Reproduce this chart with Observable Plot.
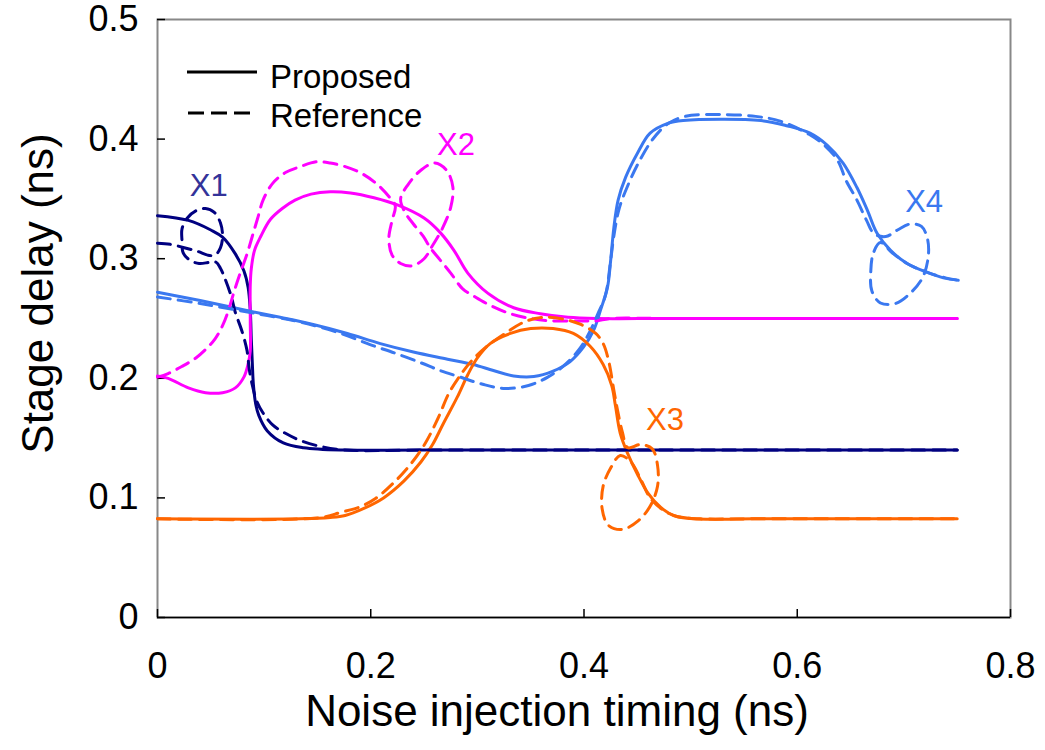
<!DOCTYPE html>
<html>
<head>
<meta charset="utf-8">
<script src="https://cdn.jsdelivr.net/npm/d3@7"></script>
<script src="https://cdn.jsdelivr.net/npm/@observablehq/plot@0.6"></script>
<style>
  body { margin: 0; background: #fff; }
  #wrap { position: relative; width: 1045px; height: 750px; font-family: "Liberation Sans", Arial, sans-serif; }
  #legend { position: absolute; left: 0; top: 0; width: 1045px; height: 0; }
  #legend svg { position: absolute; overflow: visible; }
  #legend .lbl { position: absolute; font-size: 33px; line-height: 33px; color: #000; white-space: nowrap; }
</style>
</head>
<body>
<div id="wrap">
  <div id="chart"></div>
  <div id="legend">
    <svg style="left:187px;top:62px" width="72" height="20"><line x1="0" y1="10" x2="70" y2="10" stroke="#000" stroke-width="3"/></svg>
    <div class="lbl" style="left:270px;top:60px">Proposed</div>
    <svg style="left:188px;top:103px" width="66" height="20"><line x1="0" y1="10" x2="62" y2="10" stroke="#000" stroke-width="3" stroke-dasharray="16,7"/></svg>
    <div class="lbl" style="left:270px;top:99px">Reference</div>
  </div>
</div>
<script>
// ---------- data (x: noise injection timing in ns, y: stage delay in ns) ----------
const xTicks = [0, 0.2, 0.4, 0.6, 0.8];
const xTickLabels = ["0", "0.2", "0.4", "0.6", "0.8"];
const yTicks = [0, 0.1, 0.2, 0.3, 0.4, 0.5];
const yTickLabels = ["0", "0.1", "0.2", "0.3", "0.4", "0.5"];
const xTitle = "Noise injection timing (ns)";
const yTitle = "Stage delay (ns)";

const navyProposed = [[0,0.336],[0.029,0.332],[0.050,0.324],[0.061,0.318],[0.073,0.304],[0.081,0.290],[0.085,0.276],[0.087,0.257],[0.088,0.232],[0.089,0.211],[0.090,0.194],[0.092,0.179],[0.095,0.169],[0.103,0.156],[0.118,0.146],[0.137,0.142],[0.174,0.140],[0.250,0.140],[0.750,0.140]];
const navyReference = [[0,0.313],[0.012,0.312],[0.026,0.309],[0.038,0.306],[0.047,0.303],[0.054,0.303],[0.059,0.309],[0.061,0.319],[0.059,0.330],[0.053,0.339],[0.045,0.342],[0.036,0.340],[0.028,0.334],[0.023,0.325],[0.023,0.315],[0.024,0.305],[0.030,0.299],[0.039,0.296],[0.049,0.297],[0.055,0.297],[0.059,0.292],[0.063,0.284],[0.069,0.269],[0.073,0.255],[0.079,0.240],[0.084,0.223],[0.086,0.208],[0.089,0.194],[0.093,0.181],[0.099,0.171],[0.108,0.161],[0.120,0.154],[0.134,0.148],[0.153,0.143],[0.176,0.140],[0.250,0.140],[0.750,0.140]];

const magentaProposed = [[0,0.202],[0.010,0.200],[0.029,0.192],[0.045,0.188],[0.061,0.188],[0.073,0.192],[0.081,0.201],[0.085,0.212],[0.087,0.223],[0.087,0.248],[0.087,0.278],[0.088,0.292],[0.091,0.307],[0.097,0.319],[0.106,0.333],[0.117,0.342],[0.129,0.349],[0.144,0.354],[0.162,0.356],[0.181,0.355],[0.203,0.351],[0.225,0.345],[0.250,0.334],[0.265,0.322],[0.278,0.307],[0.291,0.288],[0.310,0.271],[0.334,0.259],[0.359,0.254],[0.385,0.251],[0.413,0.250],[0.480,0.250],[0.750,0.250]];
const magentaReference = [[0,0.201],[0.010,0.204],[0.023,0.210],[0.036,0.217],[0.045,0.224],[0.054,0.233],[0.061,0.244],[0.067,0.258],[0.072,0.273],[0.078,0.289],[0.084,0.304],[0.089,0.319],[0.094,0.334],[0.099,0.349],[0.108,0.363],[0.120,0.372],[0.134,0.377],[0.149,0.381],[0.162,0.380],[0.176,0.377],[0.190,0.372],[0.205,0.363],[0.217,0.352],[0.223,0.344],[0.220,0.332],[0.217,0.317],[0.220,0.303],[0.228,0.296],[0.239,0.294],[0.250,0.300],[0.258,0.311],[0.267,0.325],[0.275,0.343],[0.277,0.360],[0.271,0.374],[0.260,0.380],[0.247,0.374],[0.235,0.362],[0.228,0.350],[0.232,0.339],[0.240,0.329],[0.249,0.319],[0.256,0.309],[0.265,0.299],[0.275,0.288],[0.286,0.275],[0.298,0.268],[0.312,0.261],[0.331,0.254],[0.350,0.250],[0.369,0.248],[0.392,0.248],[0.411,0.248],[0.425,0.250],[0.480,0.250],[0.750,0.250]];

const blueProposed = [[0,0.272],[0.040,0.265],[0.087,0.256],[0.115,0.251],[0.146,0.245],[0.178,0.2375],[0.209,0.229],[0.240,0.222],[0.272,0.216],[0.296,0.2115],[0.315,0.2065],[0.334,0.202],[0.353,0.2015],[0.371,0.206],[0.387,0.214],[0.3995,0.226],[0.409,0.240],[0.4155,0.257],[0.422,0.276],[0.425,0.2985],[0.428,0.326],[0.432,0.349],[0.439,0.368],[0.450,0.388],[0.462,0.405],[0.478,0.413],[0.493,0.4155],[0.566,0.4155],[0.591,0.411],[0.612,0.405],[0.628,0.395],[0.643,0.380],[0.656,0.3595],[0.666,0.340],[0.675,0.321],[0.6875,0.307],[0.703,0.296],[0.722,0.2885],[0.737,0.284],[0.751,0.282]];
const blueReference = [[0,0.268],[0.040,0.2625],[0.087,0.255],[0.134,0.247],[0.172,0.2375],[0.200,0.228],[0.223,0.221],[0.247,0.213],[0.265,0.2065],[0.284,0.201],[0.305,0.195],[0.326,0.1915],[0.348,0.194],[0.366,0.201],[0.383,0.212],[0.397,0.226],[0.406,0.240],[0.413,0.254],[0.420,0.269],[0.425,0.2985],[0.428,0.319],[0.433,0.342],[0.441,0.361],[0.451,0.380],[0.465,0.4005],[0.479,0.413],[0.495,0.419],[0.528,0.4205],[0.561,0.419],[0.584,0.415],[0.611,0.404],[0.6265,0.394],[0.638,0.382],[0.646,0.365],[0.656,0.349],[0.665,0.332],[0.672,0.321],[0.683,0.3185],[0.694,0.324],[0.706,0.329],[0.7165,0.327],[0.722,0.317],[0.723,0.303],[0.718,0.285],[0.707,0.272],[0.692,0.2625],[0.678,0.263],[0.670,0.273],[0.669,0.290],[0.6715,0.305],[0.678,0.3135],[0.689,0.305],[0.703,0.296],[0.722,0.2885],[0.739,0.284],[0.751,0.282]];

const orangeProposed = [[0,0.0825],[0.134,0.0825],[0.162,0.0836],[0.176,0.0853],[0.193,0.091],[0.212,0.100],[0.231,0.114],[0.247,0.130],[0.258,0.1446],[0.268,0.162],[0.281,0.184],[0.291,0.203],[0.300,0.217],[0.312,0.229],[0.331,0.2375],[0.350,0.2416],[0.371,0.2416],[0.390,0.2375],[0.406,0.2266],[0.418,0.2115],[0.426,0.194],[0.4295,0.177],[0.434,0.154],[0.441,0.137],[0.450,0.120],[0.460,0.104],[0.472,0.092],[0.484,0.0853],[0.503,0.0825],[0.560,0.0825],[0.750,0.0825]];
const orangeReference = [[0,0.0825],[0.153,0.0835],[0.172,0.088],[0.1885,0.092],[0.2045,0.0995],[0.223,0.114],[0.239,0.130],[0.251,0.1455],[0.263,0.1664],[0.273,0.187],[0.282,0.200],[0.294,0.214],[0.308,0.226],[0.3245,0.2366],[0.345,0.2475],[0.364,0.251],[0.383,0.249],[0.397,0.245],[0.411,0.2375],[0.418,0.229],[0.423,0.215],[0.428,0.190],[0.4315,0.173],[0.436,0.155],[0.441,0.142],[0.453,0.1446],[0.464,0.141],[0.469,0.127],[0.469,0.110],[0.4624,0.0936],[0.451,0.081],[0.436,0.0736],[0.423,0.077],[0.417,0.091],[0.418,0.110],[0.425,0.125],[0.434,0.1355],[0.444,0.130],[0.453,0.116],[0.462,0.100],[0.474,0.090],[0.487,0.0845],[0.509,0.0825],[0.560,0.0825],[0.750,0.0825]];

const annotLabels = ["X1", "X2", "X3", "X4"];
const annotX = [0.048, 0.280, 0.476, 0.719];
const annotY = [0.361, 0.395, 0.165, 0.347];

// ---------- styles ----------
const colors = { navy: "#000080", magenta: "#ff00ff", blue: "#3a78f0", orange: "#ff6600" };
const annotColors = { X1: "#333399", X2: "#ff00ff", X3: "#ff6600", X4: "#3a78f0" };
const series = [
  { data: navyProposed, color: colors.navy, dashed: false },
  { data: magentaProposed, color: colors.magenta, dashed: false },
  { data: blueProposed, color: colors.blue, dashed: false },
  { data: orangeProposed, color: colors.orange, dashed: false },
  { data: navyReference, color: colors.navy, dashed: true },
  { data: magentaReference, color: colors.magenta, dashed: true },
  { data: blueReference, color: colors.blue, dashed: true },
  { data: orangeReference, color: colors.orange, dashed: true }
];

const W = 1045, H = 750, mL = 157, mR = 35, mT = 19, mB = 133;
const plotW = W - mL - mR, plotH = H - mT - mB;
const font = "'Liberation Sans', Arial, sans-serif";

const chart = Plot.plot({
  width: W, height: H,
  marginLeft: mL, marginRight: mR, marginTop: mT, marginBottom: mB,
  x: { domain: [0, 0.8] },
  y: { domain: [0, 0.5] },
  style: { fontFamily: font, color: "#000", background: "#fff", overflow: "visible" },
  marks: [
    Plot.frame({ stroke: "#888", strokeWidth: 2 }),
    Plot.ruleY([0], { stroke: "#000", strokeWidth: 1.5 }),
    Plot.tickX(xTicks, { x: d => d, insetTop: plotH - 8, stroke: "#000", strokeWidth: 1.5 }),
    Plot.tickY(yTicks, { y: d => d, insetRight: plotW - 8, stroke: "#000", strokeWidth: 1.5 }),
    Plot.axisX({ ticks: xTicks, tickSize: 0, tickPadding: 35, fontSize: 36, label: null,
      tickFormat: d => xTickLabels[xTicks.indexOf(d)] }),
    Plot.axisY({ ticks: yTicks, tickSize: 0, tickPadding: 19, fontSize: 36, label: null,
      tickFormat: d => yTickLabels[yTicks.indexOf(d)] }),
    ...series.map(s => Plot.line(s.data, {
      x: d => d[0], y: d => d[1], stroke: s.color, strokeWidth: 3,
      strokeDasharray: s.dashed ? "13,8" : null, curve: "catmull-rom"
    })),
    ...annotLabels.map((lab, i) => Plot.text([lab], {
      x: () => annotX[i], y: () => annotY[i], text: d => d, fill: annotColors[lab], fontSize: 31
    })),
    Plot.text([xTitle], { frameAnchor: "bottom", textAnchor: "middle", dx: -27, dy: 108, fontSize: 44 }),
    Plot.text([yTitle], { frameAnchor: "left", textAnchor: "middle", lineAnchor: "middle", rotate: -90, dx: -119, dy: -25, fontSize: 44 })
  ]
});
document.getElementById("chart").appendChild(chart);
</script>
</body>
</html>
